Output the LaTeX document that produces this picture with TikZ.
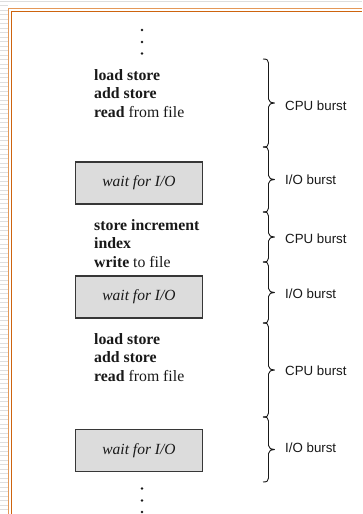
\documentclass[tikz,border=0pt]{standalone}
\usepackage{fontspec}
\setmainfont{Liberation Serif}
\newfontfamily\labelfont{Liberation Sans}
\usetikzlibrary{calc}
\definecolor{stripe}{RGB}{222,222,222}
\definecolor{frameout}{RGB}{228,152,88}
\definecolor{framein}{RGB}{206,100,14}
\definecolor{boxfill}{RGB}{220,220,220}
\definecolor{boxline}{RGB}{55,55,55}
\definecolor{ink}{RGB}{25,25,25}
\begin{document}
\begin{tikzpicture}[x=1pt,y=-1pt,
  code/.style={anchor=base west, inner sep=0pt, text=ink, font=\fontsize{15.8}{19}\selectfont},
  waitbox/.style={draw=boxline, line width=1.4pt, fill=boxfill, minimum width=127pt, minimum height=42pt, inner sep=0pt, text=ink, font=\fontsize{15.5}{18}\selectfont\itshape},
  burst/.style={draw=ink, line width=0.9pt, line join=round, to path={
    (\tikztostart) .. controls +(4,0) and +(0,-3) .. ($(\tikztostart)+(5.5,4)$)
    -- ($(\tikztostart)!0.5!(\tikztotarget)+(5.5,-4)$)
    .. controls +(0,3) and +(-3,0) .. ($(\tikztostart)!0.5!(\tikztotarget)+(11.5,0)$)
    .. controls +(-3,0) and +(0,-3) .. ($(\tikztostart)!0.5!(\tikztotarget)+(5.5,4)$)
    -- ($(\tikztotarget)+(5.5,-4)$)
    .. controls +(0,3) and +(4,0) .. (\tikztotarget)}},
  burstlabel/.style={anchor=west, inner sep=0pt, text=ink, font=\labelfont\fontsize{13.3}{15}\selectfont},
  dot/.style={circle, fill=ink, inner sep=0pt, minimum size=2.8pt}]
\useasboundingbox (0,0) rectangle (362,514);
\fill[white] (0,0) rectangle (362,514);
% background stripes and frame
\foreach \k in {1,...,113} \draw[stripe, line width=1pt] (0,{1+4.5*\k}) -- (8,{1+4.5*\k});
\draw[stripe, line width=1.2pt] (0,1.5) -- (362,1.5);
\draw[frameout, line width=1.4pt] (8.5,514) -- (8.5,8.5) -- (362,8.5);
\draw[framein, line width=1.4pt] (11.5,514) -- (11.5,11.5) -- (362,11.5);
% top dots
\node[dot] (d1) at (142,30) {};
\node[dot] (d2) at (142,42) {};
\node[dot] (d3) at (142,53.5) {};
% first CPU block
\node[code] (a1) at (94,80) {\textbf{load store}};
\node[code] (a2) at (94,98.5) {\textbf{add store}};
\node[code] (a3) at (94,117) {\textbf{read} from file};
% first wait
\node[waitbox] (w1) at (139,183) {wait for I/O};
% second CPU block
\node[code] (b1) at (94,230) {\textbf{store increment}};
\node[code] (b2) at (94,248.5) {\textbf{index}};
\node[code] (b3) at (94,267) {\textbf{write} to file};
% second wait
\node[waitbox] (w2) at (139,297) {wait for I/O};
% third CPU block
\node[code] (c1) at (94,344) {\textbf{load store}};
\node[code] (c2) at (94,362.5) {\textbf{add store}};
\node[code] (c3) at (94,381) {\textbf{read} from file};
% third wait
\node[waitbox] (w3) at (139,450.5) {wait for I/O};
% bottom dots
\node[dot] (e1) at (142,488.5) {};
\node[dot] (e2) at (142,500.5) {};
\node[dot] (e3) at (142,512) {};
% braces
\coordinate (k0) at (263,59);
\coordinate (k1) at (263,147);
\coordinate (k2) at (263,212);
\coordinate (k3) at (263,262);
\coordinate (k4) at (263,323);
\coordinate (k5) at (263,417);
\coordinate (k6) at (263,482);
\draw[burst] (k0) to (k1);
\draw[burst] (k1) to (k2);
\draw[burst] (k2) to (k3);
\draw[burst] (k3) to (k4);
\draw[burst] (k4) to (k5);
\draw[burst] (k5) to (k6);
\node[burstlabel] (m1) at (285,106) {CPU burst};
\node[burstlabel] (m2) at (285,180) {I/O burst};
\node[burstlabel] (m3) at (285,239) {CPU burst};
\node[burstlabel] (m4) at (285,294) {I/O burst};
\node[burstlabel] (m5) at (285,371) {CPU burst};
\node[burstlabel] (m6) at (285,448) {I/O burst};
\end{tikzpicture}
\end{document}
